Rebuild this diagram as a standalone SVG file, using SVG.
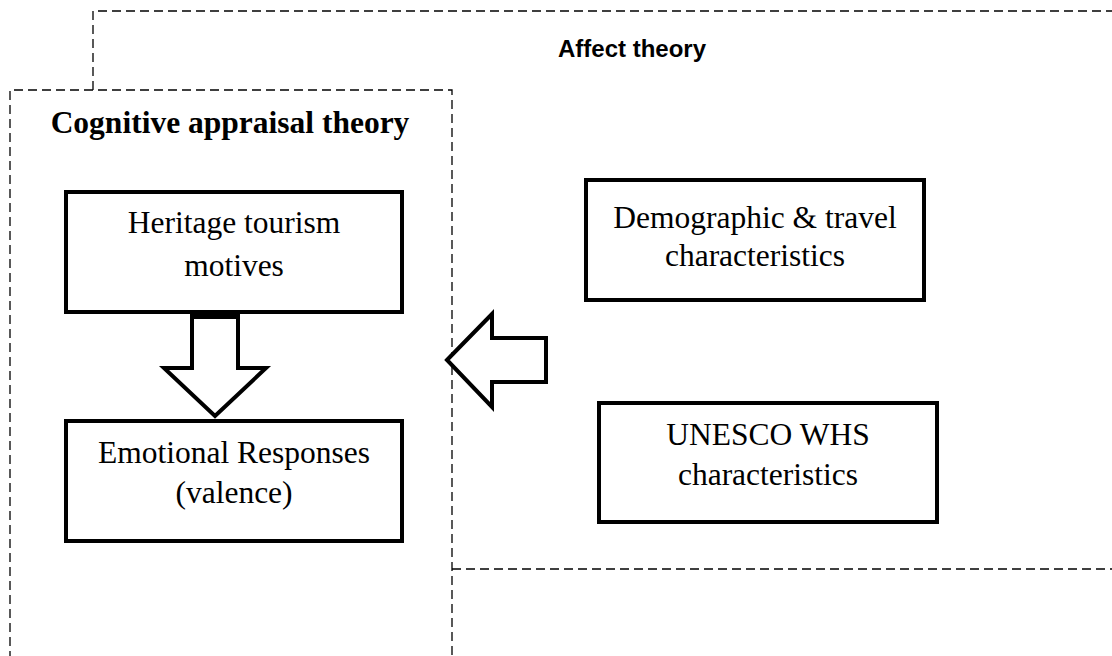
<svg xmlns="http://www.w3.org/2000/svg" width="1112" height="656" viewBox="0 0 1112 656">
<style>
.dash{fill:none;stroke:#000;stroke-width:1.3;stroke-dasharray:9 5}
.box{fill:#fff;stroke:#000;stroke-width:4}
.arrow{fill:#fff;stroke:#000;stroke-width:4;stroke-linejoin:miter}
.t{font-family:"Liberation Serif","Times New Roman",serif;font-size:31.5px;fill:#000;text-anchor:middle}
.title{font-family:"Liberation Serif","Times New Roman",serif;font-size:31.5px;font-weight:bold;fill:#000;text-anchor:middle}
.atitle{font-family:"Liberation Sans",Arial,sans-serif;font-size:24px;font-weight:bold;fill:#000;text-anchor:middle}
</style>
<rect width="1112" height="656" fill="#fff"/>
<g id="affect-theory">
<path class="dash" d="M93 90 V11 H1112"/>
<path class="dash" d="M452 569 H1112"/>
<text class="atitle" x="632" y="57">Affect theory</text>
</g>
<g id="cognitive-appraisal-theory">
<path class="dash" d="M10 660 V90 H452 V660"/>
<text class="title" x="230" y="133">Cognitive appraisal theory</text>
</g>
<g id="heritage">
<rect class="box" x="66" y="192" width="336" height="120"/>
<text class="t" x="234" y="233">Heritage tourism</text>
<text class="t" x="234" y="276">motives</text>
</g>
<g id="emotional">
<rect class="box" x="66" y="421" width="336" height="120"/>
<text class="t" x="234" y="463">Emotional Responses</text>
<text class="t" x="234" y="503">(valence)</text>
</g>
<g id="demographic">
<rect class="box" x="586" y="180" width="338" height="120"/>
<text class="t" x="755" y="228">Demographic &amp; travel</text>
<text class="t" x="755" y="266">characteristics</text>
</g>
<g id="unesco">
<rect class="box" x="599" y="403" width="338" height="119"/>
<text class="t" x="768" y="445">UNESCO WHS</text>
<text class="t" x="768" y="485">characteristics</text>
</g>
<g id="connectors">
<rect x="190" y="312" width="50" height="7" fill="#000"/>
<polygon class="arrow" points="192,317 238,317 238,368 266,368 215,416 164,368 192,368"/>
<polygon class="arrow" points="447,360 492,314 492,338 546,338 546,382 492,382 492,407"/>
</g>
</svg>
